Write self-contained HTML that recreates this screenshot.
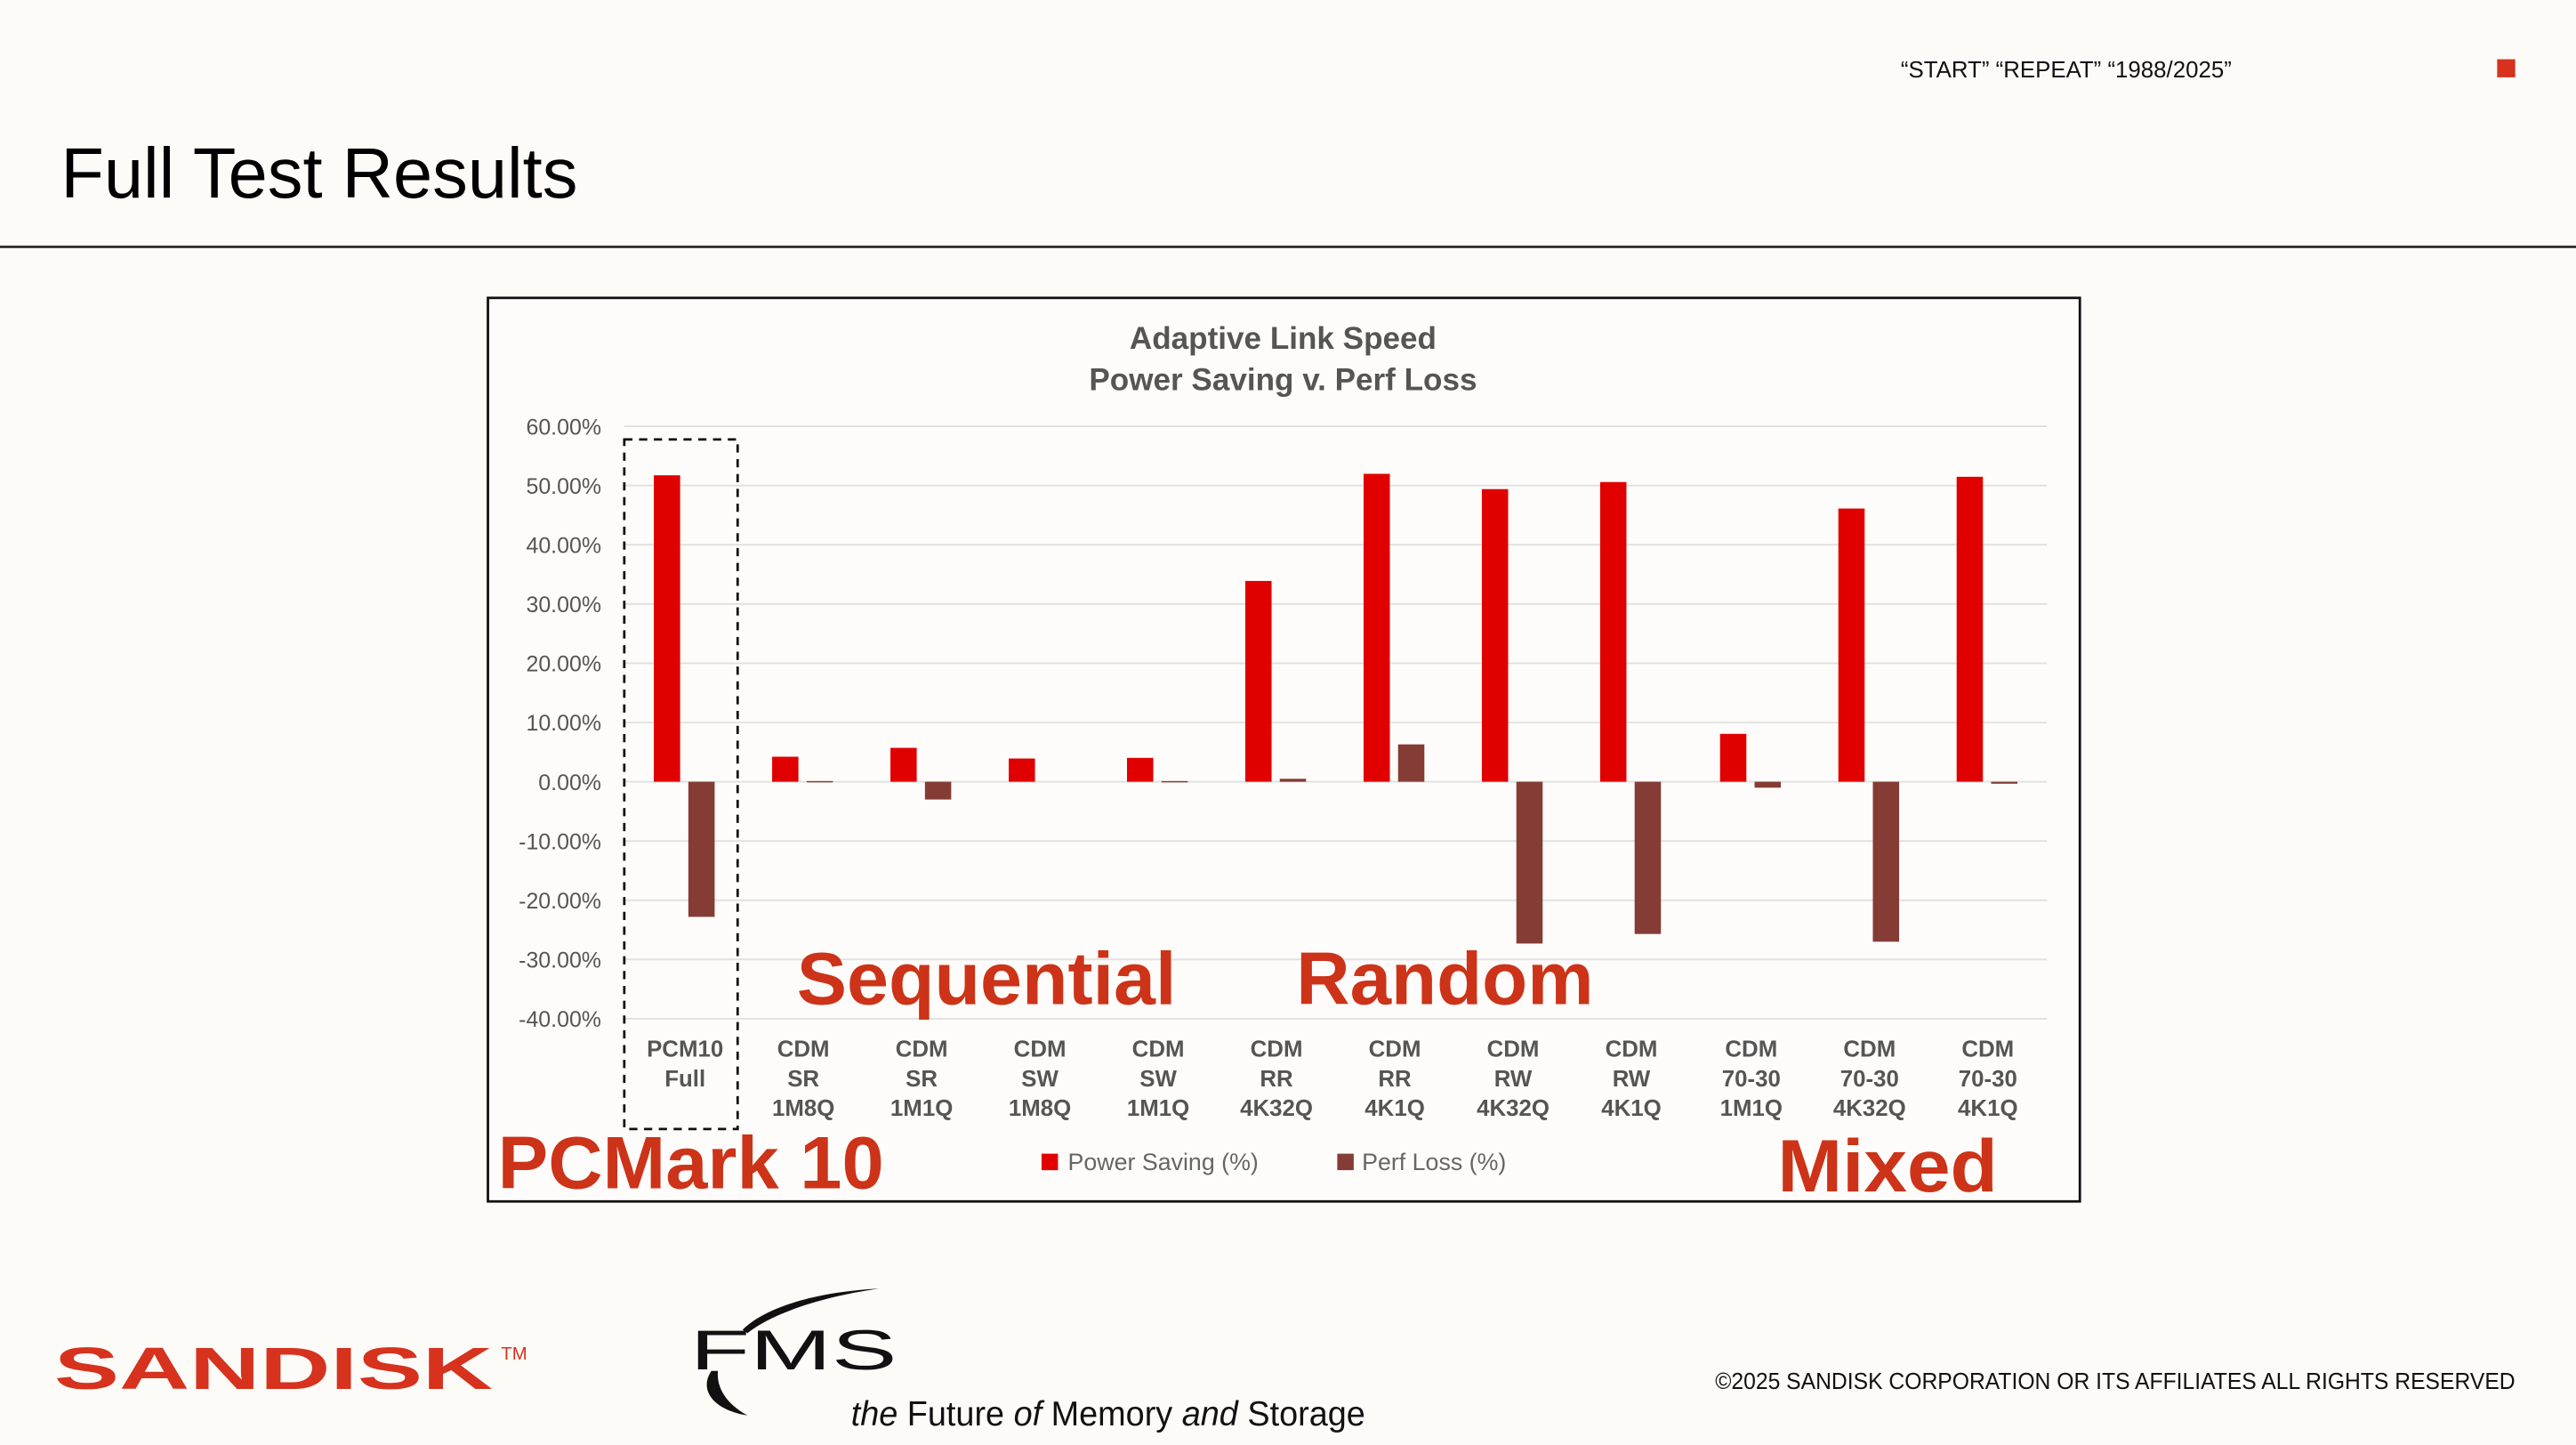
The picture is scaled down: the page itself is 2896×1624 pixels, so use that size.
<!DOCTYPE html>
<html><head><meta charset="utf-8"><style>
html,body{margin:0;padding:0;background:#fcfbf7;}
svg{display:block;}
</style></head><body>
<svg width="2896" height="1624" viewBox="0 0 1568 878" preserveAspectRatio="none" xmlns="http://www.w3.org/2000/svg" font-family="Liberation Sans, sans-serif">
<rect width="1568" height="878" fill="#fcfbf7"/>
<text x="1157" y="47" font-size="14" fill="#111">“START” “REPEAT” “1988/2025”</text>
<rect x="1520" y="36" width="11" height="11" fill="#d6321e"/>
<text x="37" y="120" font-size="43" fill="#000">Full Test Results</text>
<line x1="0" y1="150" x2="1568" y2="150" stroke="#333" stroke-width="1.5"/>

<rect x="297" y="181" width="969" height="549" fill="#fdfcfa" stroke="#111" stroke-width="1.5"/>
<g font-weight="bold" fill="#555" font-size="19" text-anchor="middle">
<text x="781" y="212">Adaptive Link Speed</text>
<text x="781" y="237">Power Saving v. Perf Loss</text>
</g>
<g stroke="#e0e0e0" stroke-width="1">
<line x1="380" x2="1246" y1="259" y2="259"/><line x1="380" x2="1246" y1="295" y2="295"/>
<line x1="380" x2="1246" y1="331" y2="331"/><line x1="380" x2="1246" y1="367" y2="367"/>
<line x1="380" x2="1246" y1="403" y2="403"/><line x1="380" x2="1246" y1="439" y2="439"/>
<line x1="380" x2="1246" y1="475" y2="475"/><line x1="380" x2="1246" y1="511" y2="511"/>
<line x1="380" x2="1246" y1="547" y2="547"/><line x1="380" x2="1246" y1="583" y2="583"/>
<line x1="380" x2="1246" y1="619" y2="619"/>
</g>
<g font-size="13.5" fill="#555" text-anchor="end">
<text x="366" y="264">60.00%</text><text x="366" y="300">50.00%</text><text x="366" y="336">40.00%</text>
<text x="366" y="372">30.00%</text><text x="366" y="408">20.00%</text><text x="366" y="444">10.00%</text>
<text x="366" y="480">0.00%</text><text x="366" y="516">-10.00%</text><text x="366" y="552">-20.00%</text>
<text x="366" y="588">-30.00%</text><text x="366" y="624">-40.00%</text>
</g>
<g fill="#e00000">
<rect x="398" y="288.8" width="16" height="186.2"/>
<rect x="470" y="459.8" width="16" height="15.2"/>
<rect x="542" y="454.4" width="16" height="20.6"/>
<rect x="614" y="460.9" width="16" height="14.1"/>
<rect x="686" y="460.5" width="16" height="14.5"/>
<rect x="758" y="353" width="16" height="122"/>
<rect x="830" y="287.9" width="16" height="187.1"/>
<rect x="902" y="297.2" width="16" height="177.8"/>
<rect x="974" y="292.9" width="16" height="182.1"/>
<rect x="1047" y="445.9" width="16" height="29.1"/>
<rect x="1119" y="309" width="16" height="166"/>
<rect x="1191" y="289.7" width="16" height="185.3"/>
</g>
<g fill="#843c35">
<rect x="419" y="475" width="16" height="82.1"/>
<rect x="491" y="474.6" width="16" height="0.8"/>
<rect x="563" y="475" width="16" height="10.8"/>
<rect x="707" y="474.6" width="16" height="0.8"/>
<rect x="779" y="473.2" width="16" height="1.8"/>
<rect x="851" y="452.3" width="16" height="22.7"/>
<rect x="923" y="475" width="16" height="98.3"/>
<rect x="995" y="475" width="16" height="92.5"/>
<rect x="1068" y="475" width="16" height="3.6"/>
<rect x="1140" y="475" width="16" height="97.2"/>
<rect x="1212" y="475" width="16" height="1.2"/>
</g>
<rect x="380" y="267" width="69" height="419" fill="none" stroke="#111" stroke-width="1.5" stroke-dasharray="5,4"/>
<g font-size="14" font-weight="bold" fill="#555" text-anchor="middle">
<text x="417" y="642">PCM10</text><text x="417" y="660">Full</text>
<text x="489" y="642">CDM</text><text x="489" y="660">SR</text><text x="489" y="678">1M8Q</text>
<text x="561" y="642">CDM</text><text x="561" y="660">SR</text><text x="561" y="678">1M1Q</text>
<text x="633" y="642">CDM</text><text x="633" y="660">SW</text><text x="633" y="678">1M8Q</text>
<text x="705" y="642">CDM</text><text x="705" y="660">SW</text><text x="705" y="678">1M1Q</text>
<text x="777" y="642">CDM</text><text x="777" y="660">RR</text><text x="777" y="678">4K32Q</text>
<text x="849" y="642">CDM</text><text x="849" y="660">RR</text><text x="849" y="678">4K1Q</text>
<text x="921" y="642">CDM</text><text x="921" y="660">RW</text><text x="921" y="678">4K32Q</text>
<text x="993" y="642">CDM</text><text x="993" y="660">RW</text><text x="993" y="678">4K1Q</text>
<text x="1066" y="642">CDM</text><text x="1066" y="660">70-30</text><text x="1066" y="678">1M1Q</text>
<text x="1138" y="642">CDM</text><text x="1138" y="660">70-30</text><text x="1138" y="678">4K32Q</text>
<text x="1210" y="642">CDM</text><text x="1210" y="660">70-30</text><text x="1210" y="678">4K1Q</text>
</g>
<rect x="634" y="701" width="10" height="10" fill="#e00000"/>
<text x="650" y="711" font-size="14.5" fill="#666">Power Saving (%)</text>
<rect x="814" y="701" width="10" height="10" fill="#843c35"/>
<text x="829" y="711" font-size="14.5" fill="#666">Perf Loss (%)</text>
<g font-weight="bold" fill="#cc3318" font-size="45">
<text x="485" y="610" textLength="231" lengthAdjust="spacingAndGlyphs">Sequential</text>
<text x="789" y="610" textLength="181" lengthAdjust="spacingAndGlyphs">Random</text>
<text x="303" y="722" textLength="235" lengthAdjust="spacingAndGlyphs">PCMark 10</text>
<text x="1082" y="724" textLength="134" lengthAdjust="spacingAndGlyphs">Mixed</text>
</g>

<text x="33" y="844" font-size="36" font-weight="bold" fill="#d6321e" textLength="267" lengthAdjust="spacingAndGlyphs">SANDISK</text>
<text x="305" y="826" font-size="11" fill="#d6321e">TM</text>
<path d="M452 808 C465 795 495 785 535 783 C500 788 470 798 455 810 Z" fill="#111"/>
<path d="M433 833 C425 845 435 857 455 860 C442 853 436 843 437 833 Z" fill="#111"/>
<text x="420" y="832" font-size="34" fill="#111" textLength="126" lengthAdjust="spacingAndGlyphs">FMS</text>
<text x="518" y="866" font-size="21" fill="#111" textLength="313" lengthAdjust="spacingAndGlyphs"><tspan font-style="italic">the</tspan> Future <tspan font-style="italic">of</tspan> Memory <tspan font-style="italic">and</tspan> Storage</text>
<text x="1044" y="844" font-size="14" fill="#111" textLength="487" lengthAdjust="spacingAndGlyphs">©2025 SANDISK CORPORATION OR ITS AFFILIATES ALL RIGHTS RESERVED</text>
</svg>
</body></html>
